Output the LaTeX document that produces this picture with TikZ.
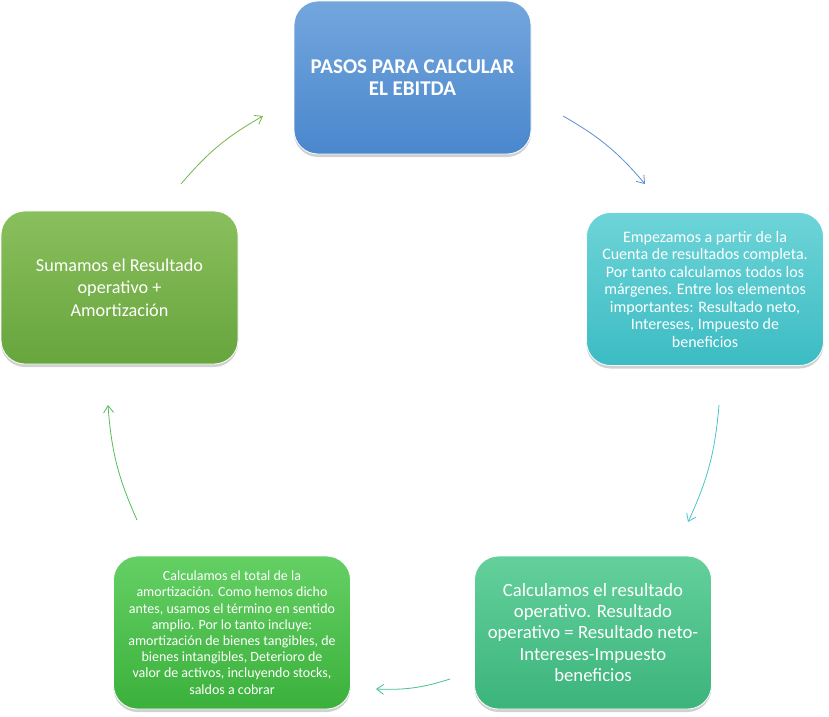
\documentclass[tikz,border=0pt]{standalone}
\usepackage{fontspec}
\setmainfont{Carlito}
\usetikzlibrary{arrows.meta,shadows}
\definecolor{cTopA}{HTML}{73A6DD}\definecolor{cTopB}{HTML}{4A87CD}
\definecolor{cRA}{HTML}{6DD4D8}\definecolor{cRB}{HTML}{3CBCC3}
\definecolor{cBRA}{HTML}{64D09C}\definecolor{cBRB}{HTML}{3BB47B}
\definecolor{cBLA}{HTML}{64D064}\definecolor{cBLB}{HTML}{3BB03B}
\definecolor{cLA}{HTML}{8ABF5D}\definecolor{cLB}{HTML}{67A53D}
\definecolor{aTop}{HTML}{5B8FCE}\definecolor{aR}{HTML}{4CC4C9}
\definecolor{aBR}{HTML}{4CBF8A}\definecolor{aBL}{HTML}{55BC55}
\definecolor{aL}{HTML}{7AB34E}
\tikzset{
  stepbox/.style={rounded corners=24pt, minimum width=237pt, minimum height=153pt,
    inner sep=0pt, align=center, text=white, draw=white, line width=0.8pt,
    drop shadow={shadow xshift=0pt, shadow yshift=-3pt, opacity=0.18, fill=black}},
  cyc/.style={-{Straight Barb[length=7pt,width=10pt]}, line width=0.8pt, bend left=10}
}
\begin{document}
\begin{tikzpicture}[x=1pt,y=-1pt]
\useasboundingbox (0,0) rectangle (829,716);
\node[stepbox, top color=cTopA, bottom color=cTopB,
  font=\fontsize{21}{22.7}\selectfont\bfseries] (top) at (412.5,77.5)
  {PASOS PARA CALCULAR\\EL EBITDA};
\node[stepbox, top color=cRA, bottom color=cRB,
  font=\fontsize{16}{17.5}\selectfont] (right) at (705,289)
  {Empezamos a partir de la\\Cuenta de resultados completa.\\Por tanto calculamos todos los\\márgenes. Entre los elementos\\importantes: Resultado neto,\\Intereses, Impuesto de\\beneficios};
\node[stepbox, top color=cBRA, bottom color=cBRB,
  font=\fontsize{18.7}{21.3}\selectfont] (bright) at (593,632.5)
  {Calculamos el resultado\\operativo. Resultado\\operativo = Resultado neto-\\Intereses-Impuesto\\beneficios};
\node[stepbox, top color=cBLA, bottom color=cBLB,
  font=\fontsize{14}{16.2}\selectfont] (bleft) at (232,632.5)
  {Calculamos el total de la\\amortización. Como hemos dicho\\antes, usamos el término en sentido\\amplio. Por lo tanto incluye:\\amortización de bienes tangibles, de\\bienes intangibles, Deterioro de\\valor de activos, incluyendo stocks,\\saldos a cobrar};
\node[stepbox, top color=cLA, bottom color=cLB,
  font=\fontsize{18.2}{22.5}\selectfont] (left) at (119.5,287.5)
  {Sumamos el Resultado\\operativo +\\Amortización};
\coordinate (a1s) at (563,116); \coordinate (a1e) at (645,184);
\coordinate (a2s) at (719,405); \coordinate (a2e) at (688,522);
\coordinate (a3s) at (450,679); \coordinate (a3e) at (376,689);
\coordinate (a4s) at (137,520); \coordinate (a4e) at (108,405);
\coordinate (a5s) at (181,184); \coordinate (a5e) at (263,116);
\draw[cyc, aTop] (a1s) to (a1e);
\draw[cyc, aR] (a2s) to (a2e);
\draw[cyc, aBR] (a3s) to (a3e);
\draw[cyc, aBL] (a4s) to (a4e);
\draw[cyc, aL] (a5s) to (a5e);
\end{tikzpicture}
\end{document}
